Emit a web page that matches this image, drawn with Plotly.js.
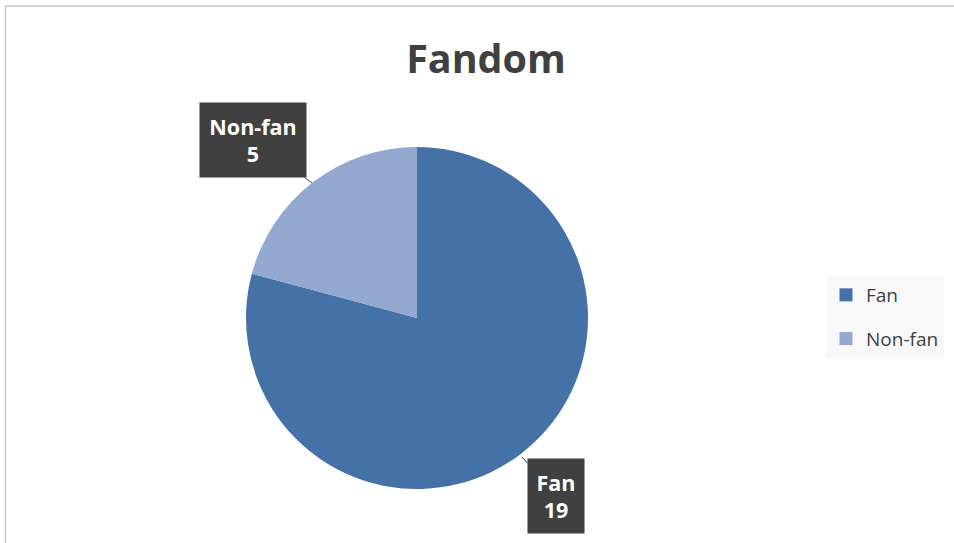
<!DOCTYPE html>
<html>
<head>
<meta charset="utf-8">
<script src="https://cdn.plot.ly/plotly-3.0.1.min.js"></script>
<style>html,body{margin:0;padding:0;background:#fff;}#chart{width:954px;height:543px;}</style>
</head>
<body>
<div id="chart"></div>
<script>
// Data
const categories = ["Fan", "Non-fan"];
const values = [19, 5];
const colors = ["#4472A7", "#93A9CF"];
const chartTitle = "Fandom";

const W = 954, H = 543;
const px = (x) => x / W;
const py = (y) => 1 - y / H;

// Pie geometry (pixels)
const cx = 417, cy = 318, r = 171;

const pie = {
  type: "pie",
  labels: categories,
  values: values,
  sort: false,
  direction: "clockwise",
  rotation: 0,
  marker: { colors: colors, line: { width: 0 } },
  textinfo: "none",
  hoverinfo: "label+value",
  showlegend: false,
  domain: { x: [px(cx - r), px(cx + r)], y: [py(cy + r), py(cy - r)] }
};

// Legend entries (dummy traces so spacing can be controlled)
const legendTraces = categories.map((c, i) => ({
  type: "scatter", mode: "markers", x: [null], y: [null],
  name: c, legendgroup: "g" + i,
  marker: { symbol: "square", size: 13, color: colors[i] },
  hoverinfo: "skip"
}));

const boxCenters = [[556, 496], [253, 140]];
const boxSizes = [[54, 72], [104, 72]];
const edgePts = [[522, 457], [312, 183]];
const annotations = categories.map((c, i) => ({
  xref: "paper", yref: "paper",
  x: px(edgePts[i][0]), y: py(edgePts[i][1]),
  ax: boxCenters[i][0] - edgePts[i][0], ay: boxCenters[i][1] - edgePts[i][1],
  showarrow: true, arrowhead: 0, arrowwidth: 1, arrowcolor: "#404040",
  text: "<b>" + c + "<br>" + values[i] + "</b>",
  font: { family: "Open Sans, sans-serif", size: 21.5, color: "#ffffff" },
  bgcolor: "#404040",
  width: boxSizes[i][0], height: boxSizes[i][1],
  align: "center", valign: "middle",
  borderpad: 1
}));

const layout = {
  width: W, height: H,
  margin: { l: 0, r: 0, t: 0, b: 0 },
  paper_bgcolor: "#ffffff",
  plot_bgcolor: "rgba(0,0,0,0)",
  title: {
    text: "<b>" + chartTitle + "</b>",
    x: px(486), xanchor: "center", xref: "paper",
    y: py(59), yanchor: "middle", yref: "paper",
    font: { family: "Open Sans, sans-serif", size: 39.5, color: "#404040" }
  },
  xaxis: { visible: false, domain: [0.99, 1] },
  yaxis: { visible: false, domain: [0.99, 1] },
  showlegend: true,
  legend: {
    x: px(826), xanchor: "left",
    y: py(276), yanchor: "top",
    bgcolor: "#F8F8F8",
    borderwidth: 0,
    font: { family: "Open Sans, sans-serif", size: 19, color: "#404040" },
    traceorder: "grouped",
    tracegroupgap: 16,
    itemclick: false
  },
  annotations: annotations,
  shapes: [
    { type: "line", xref: "paper", yref: "paper", x0: px(5), x1: 1, y0: py(6), y1: py(6), line: { color: "#C6C6C6", width: 1.5 } },
    { type: "line", xref: "paper", yref: "paper", x0: px(5.5), x1: px(5.5), y0: py(6), y1: 0, line: { color: "#C6C6C6", width: 1.5 } }
  ]
};

Plotly.newPlot("chart", [pie].concat(legendTraces), layout, { staticPlot: true });
</script>
</body>
</html>
